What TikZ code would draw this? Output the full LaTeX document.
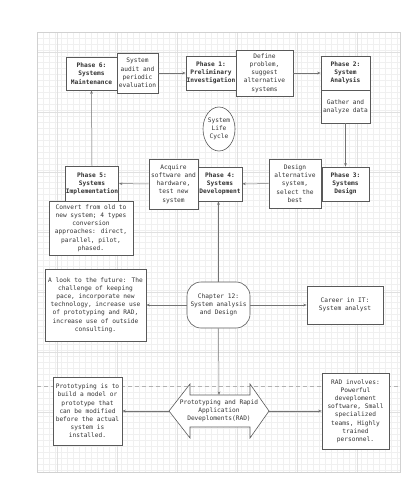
\documentclass[tikz,border=0pt]{standalone}
\usepackage{fontspec}
\newfontfamily\mono{DejaVu Sans Mono}
\usetikzlibrary{arrows.meta,shapes.geometric}
\tikzset{
  box/.style={draw=black!65, fill=white, line width=0.6pt, align=center, inner sep=0.5pt,
    text=black!80, font=\mono\fontsize{6.2}{8.2}\selectfont},
  phase/.style={box, font=\mono\bfseries\fontsize{6.2}{8.2}\selectfont},
  conn/.style={draw=black!55, line width=0.5pt, -{Stealth[length=3.5pt,width=2.6pt]}},
  minorgrid/.style={draw=black!6, line width=0.3pt},
  majorgrid/.style={draw=black!12, line width=0.4pt},
}
\begin{document}
\begin{tikzpicture}[x=1pt,y=-1pt]
\useasboundingbox (0,0) rectangle (419,502);
% background grid
\foreach \x in {37,43,...,400} \draw[minorgrid] (\x,32) -- (\x,472);
\foreach \y in {32,38,...,472} \draw[minorgrid] (37,\y) -- (400,\y);
\foreach \x in {57,117,...,400} \draw[majorgrid] (\x,32) -- (\x,472);
\foreach \y in {52,112,...,472} \draw[majorgrid] (37,\y) -- (400,\y);
\draw[black!18, line width=0.4pt] (37,32) rectangle (400,472);
% dashed separator
\draw[black!30, line width=0.8pt, dash pattern=on 4pt off 3pt] (37,386) -- (400,386);

% top row
\node[phase, minimum width=51pt, minimum height=33pt] (p6) at (91.5,73.5) {Phase 6:\\Systems\\Maintenance};
\node[box, minimum width=41pt, minimum height=40pt] (audit) at (137.5,73) {System\\audit and\\periodic\\evaluation};
\node[phase, minimum width=50pt, minimum height=34pt] (p1) at (211,73) {Phase 1:\\Preliminary\\Investigation};
\node[box, minimum width=57pt, minimum height=46pt] (define) at (264.5,73) {Define\\problem,\\suggest\\alternative\\systems};
\node[phase, minimum width=49pt, minimum height=34pt] (p2) at (345.5,73) {Phase 2:\\System\\Analysis};
\node[box, minimum width=49pt, minimum height=33pt] (gather) at (345.5,106.5) {Gather and\\analyze data};

% life cycle
\node[box, ellipse, minimum width=32pt, minimum height=44pt, inner sep=0pt] (life) at (219,129) {System\\Life\\Cycle};

% second row
\node[phase, minimum width=47pt, minimum height=34pt] (p3) at (345.5,184) {Phase 3:\\Systems\\Design};
\node[box, minimum width=52pt, minimum height=49pt] (design) at (295,183.5) {Design\\alternative\\system,\\select the\\best};
\node[phase, minimum width=44pt, minimum height=34pt] (p4) at (220,184) {Phase 4:\\Systems\\Development};
\node[box, minimum width=49pt, minimum height=50pt] (acquire) at (173.5,184) {Acquire\\software and\\hardware,\\test new\\system};
\node[phase, minimum width=52pt, minimum height=35pt] (p5) at (92,183.5) {Phase 5:\\Systems\\Implementation};
\node[box, minimum width=84pt, minimum height=54pt] (convert) at (91,228) {Convert from old to\\new system; 4 types\\conversion\\approaches: direct,\\parallel, pilot,\\phased.};

% chapter row
\node[box, rounded corners=14pt, minimum width=63pt, minimum height=46pt] (chap) at (218.5,305) {Chapter 12:\\System analysis\\and Design};
\node[box, minimum width=101pt, minimum height=72pt] (future) at (95.5,305) {A look to the future: The\\challenge of keeping\\pace, incorporate new\\technology, increase use\\of prototyping and RAD,\\increase use of outside\\consulting.};
\node[box, minimum width=76pt, minimum height=38pt] (career) at (345,305) {Career in IT:\\System analyst};

% bottom row
\draw[draw=black!65, fill=white, line width=0.6pt]
  (169,411) -- (190,384) -- (190,395) -- (250,395) -- (250,384) -- (269,411)
  -- (250,438) -- (250,427) -- (190,427) -- (190,438) -- cycle;
\coordinate (radL) at (169,411);
\coordinate (radR) at (269,411);
\coordinate (radT) at (219,395);
\node[align=center, inner sep=0pt, text=black!80, font=\mono\fontsize{6.2}{8.2}\selectfont] (radtext) at (219,411) {Prototyping and Rapid\\Application\\Deveploments(RAD)};
\node[box, minimum width=69pt, minimum height=68pt] (proto) at (87.5,411) {Prototyping is to\\build a model or\\prototype that\\can be modified\\before the actual\\system is\\installed.};
\node[box, minimum width=67pt, minimum height=76pt] (radbox) at (355.5,411) {RAD involves:\\Powerful\\deveploment\\software, Small\\specialized\\teams, Highly\\trained\\personnel.};

% connectors
\draw[conn] (audit) -- (p1);
\draw[conn] (define) -- (p2);
\draw[conn] (gather.south) -- (p3.north);
\draw[conn] (design) -- (p4);
\draw[conn] (acquire) -- (p5);
\draw[conn] (p5.north) -- (p6.south);
\draw[conn] (chap.north) -- (chap.north |- p4.south);
\draw[conn] (chap) -- (future);
\draw[conn] (chap) -- (career);
\draw[conn] (chap.south) -- (radT);
\draw[conn] (radL) -- (proto);
\draw[conn] (radR) -- (radbox);
\end{tikzpicture}
\end{document}
